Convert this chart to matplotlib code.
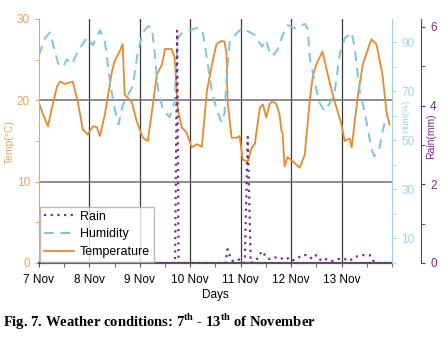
import matplotlib
matplotlib.use("Agg")
import matplotlib.pyplot as plt
from matplotlib.ticker import MultipleLocator

plt.rcParams['font.family'] = ['Liberation Sans', 'DejaVu Sans']
plt.rcParams['mathtext.fontset'] = 'custom'
plt.rcParams['mathtext.rm'] = 'Liberation Serif:bold'
plt.rcParams['mathtext.bf'] = 'Liberation Serif:bold'

# time in days from 7 Nov 00:00
temp_day = [0.00, 0.08, 0.18, 0.26, 0.36, 0.42, 0.51, 0.67, 0.77, 0.87, 0.97, 1.07, 1.15, 1.21,
            1.31, 1.45, 1.50, 1.60, 1.66, 1.70, 1.84, 1.94, 2.06, 2.16, 2.26, 2.34, 2.44, 2.50,
            2.63, 2.69, 2.75, 2.83, 2.93, 3.03, 3.13, 3.23, 3.33, 3.43, 3.52, 3.62, 3.68, 3.72,
            3.74, 3.82, 3.92, 3.98, 4.04, 4.14, 4.22, 4.28, 4.38, 4.44, 4.51, 4.57, 4.63, 4.71,
            4.77, 4.81, 4.83, 4.87, 4.93, 5.03, 5.17, 5.27, 5.37, 5.43, 5.50, 5.62, 5.76, 5.86,
            6.00, 6.06, 6.16, 6.20, 6.32, 6.42, 6.59, 6.69, 6.81, 6.89, 6.95]
temp_val = [19.7, 18.3, 16.8, 19.1, 21.7, 22.3, 22.0, 22.3, 19.9, 16.4, 15.8, 16.8, 16.7, 15.6,
            18.3, 23.6, 24.8, 26.0, 26.9, 20.7, 19.8, 17.4, 15.4, 15.0, 19.5, 23.2, 24.4, 26.3,
            26.3, 25.3, 19.1, 16.7, 16.0, 14.2, 14.6, 14.3, 21.1, 24.4, 26.9, 27.3, 27.2, 25.7,
            19.9, 15.4, 15.4, 15.6, 12.7, 12.5, 14.2, 14.6, 19.1, 19.5, 17.9, 19.5, 19.9, 19.5,
            18.3, 16.2, 16.0, 11.9, 13.0, 12.5, 11.7, 13.3, 20.0, 23.0, 24.4, 26.0, 22.3, 19.9,
            17.0, 15.0, 15.3, 14.2, 20.4, 24.4, 27.5, 26.9, 23.2, 18.6, 17.0]

hum_day = [0.00, 0.12, 0.22, 0.32, 0.38, 0.48, 0.55, 0.65, 0.77, 0.95, 1.07, 1.21, 1.31, 1.41,
           1.50, 1.58, 1.66, 1.74, 1.86, 1.96, 2.06, 2.16, 2.24, 2.30, 2.36, 2.46, 2.59, 2.69,
           2.75, 2.85, 2.99, 3.17, 3.25, 3.33, 3.43, 3.52, 3.62, 3.68, 3.72, 3.78, 3.92, 4.04,
           4.14, 4.28, 4.42, 4.50, 4.57, 4.63, 4.73, 4.83, 4.93, 5.07, 5.17, 5.27, 5.33, 5.37,
           5.47, 5.56, 5.66, 5.76, 5.86, 5.96, 6.06, 6.20, 6.26, 6.36, 6.46, 6.59, 6.65, 6.75,
           6.81, 6.89]
hum_val = [84.7, 91.6, 94.0, 86.0, 81.4, 79.8, 83.0, 81.0, 86.0, 92.0, 88.8, 94.9, 90.0, 73.7,
           63.0, 56.5, 64.3, 67.6, 72.0, 86.0, 94.0, 96.5, 96.1, 84.7, 71.0, 62.5, 59.4, 65.5,
           91.6, 94.1, 94.9, 96.1, 94.0, 83.5, 69.6, 63.0, 57.3, 61.0, 75.0, 90.0, 93.7, 95.9,
           94.5, 92.9, 88.2, 91.0, 86.3, 84.3, 87.0, 92.9, 97.0, 95.7, 96.5, 97.5, 95.3, 83.5,
           73.5, 65.5, 62.0, 65.0, 69.0, 84.7, 91.6, 94.0, 87.6, 70.0, 61.4, 46.7, 43.5, 46.7,
           53.3, 60.2]

rain_day = [0.00, 2.70, 2.74, 2.77, 3.70, 3.74, 3.78, 3.84, 3.94, 4.02, 4.08, 4.14, 4.20, 4.30,
            4.42, 4.48, 4.56, 4.66, 4.78, 4.90, 5.00, 5.10, 5.22, 5.32, 5.42, 5.50, 5.60, 5.70,
            5.82, 5.94, 6.06, 6.16, 6.26, 6.40, 6.56, 6.66, 7.00]
rain_val = [0.0, 0.0, 5.9, 0.0, 0.0, 0.35, 0.2, 0.05, 0.1, 0.05, 0.0, 3.2, 0.0, 0.05,
            0.3, 0.2, 0.1, 0.15, 0.1, 0.15, 0.05, 0.1, 0.2, 0.2, 0.1, 0.2, 0.05, 0.1,
            0.05, 0.1, 0.1, 0.05, 0.15, 0.2, 0.2, 0.0, 0.0]

day_labels = ['7 Nov', '8 Nov', '9 Nov', '10 Nov', '11 Nov', '12 Nov', '13 Nov']

c_temp = '#E8892B'
c_temp_ax = '#E9A35A'
c_hum = '#7CC5DC'
c_hum_ax = '#9FD3E4'
c_rain = '#7A2D82'

fig = plt.figure(figsize=(4.47, 3.38), dpi=100)
ax = fig.add_axes([0.087, 0.222, 0.79, 0.722])
ax_h = ax.twinx()
ax_r = ax.twinx()

# grid lines
for d in range(1, 7):
    ax.axvline(d, color='#3a3a3a', lw=0.9, zorder=0)
for t in (10, 20):
    ax.axhline(t, color='#6e6e6e', lw=1.1, zorder=0)

l_t, = ax.plot(temp_day, temp_val, color=c_temp, lw=1.3, label='Temperature')
l_h, = ax_h.plot(hum_day, hum_val, color=c_hum, lw=1.4, dashes=(5, 3.5), label='Humidity')
l_r, = ax_r.plot(rain_day, rain_val, color=c_rain, lw=1.6, dashes=(1, 2), label='Rain')

ax.set_xlim(0, 7)
ax.set_ylim(0, 30)
ax_h.set_ylim(0, 99.5)
ax_r.set_ylim(0, 6.2)

ax.set_xticks(range(7))
ax.set_xticklabels(day_labels, fontsize=8.5)
ax.xaxis.set_minor_locator(MultipleLocator(0.5))
ax.tick_params(axis='x', which='both', direction='out', length=3, color='#555555', pad=5)
ax.set_xlabel('Days', fontsize=8.5, labelpad=2)

ax.yaxis.set_major_locator(MultipleLocator(10))
ax.yaxis.set_minor_locator(MultipleLocator(5))
ax.tick_params(axis='y', which='both', colors=c_temp_ax, labelsize=8.5, length=3)
ax.set_ylabel('Temp(°C)', color=c_temp_ax, fontsize=7.5)
ax.yaxis.set_label_coords(-0.068, 0.496)

ax_h.set_yticks([10, 30, 50, 70, 90])
ax_h.yaxis.set_minor_locator(MultipleLocator(10))
ax_h.tick_params(axis='y', which='both', colors=c_hum_ax, labelsize=8.5, length=3)
ax_h.set_ylabel('Hum(%)', color=c_hum_ax, fontsize=6.5)
ax_h.yaxis.set_label_coords(1.025, 0.6)

ax_r.spines['right'].set_position(('axes', 1.082))
ax_r.yaxis.set_major_locator(MultipleLocator(2))
ax_r.yaxis.set_minor_locator(MultipleLocator(1))
ax_r.tick_params(axis='y', which='both', colors=c_rain, labelsize=8.5, length=3)
ax_r.set_ylabel('Rain(mm)', color=c_rain, fontsize=7.5)
ax_r.yaxis.set_label_coords(1.096, 0.52)

for a in (ax, ax_h, ax_r):
    a.spines['top'].set_visible(False)
ax.spines['right'].set_visible(False)
ax_h.spines['left'].set_visible(False)
ax_r.spines['left'].set_visible(False)
ax_h.spines['bottom'].set_visible(False)
ax_r.spines['bottom'].set_visible(False)
ax.spines['left'].set_color(c_temp_ax)
ax.spines['bottom'].set_color('#555555')
ax.spines['bottom'].set_linewidth(1.6)
ax_h.spines['right'].set_color(c_hum_ax)
ax_r.spines['right'].set_color(c_rain)

leg = ax_r.legend(handles=[l_r, l_h, l_t], loc='lower left', bbox_to_anchor=(0, 0),
                  borderaxespad=0.1, fontsize=9, handlelength=2.4, handletextpad=0.5,
                  frameon=True, fancybox=False, edgecolor='#aaaaaa', labelspacing=0.45,
                  borderpad=0.3)

fig.text(0.007, 0.047, r'Fig. 7. Weather conditions: 7$^{\mathbf{th}}$ - 13$^{\mathbf{th}}$ of November',
         fontsize=10.5, family='Liberation Serif', weight='bold', va='center')

fig.savefig('out.png', dpi=100)
